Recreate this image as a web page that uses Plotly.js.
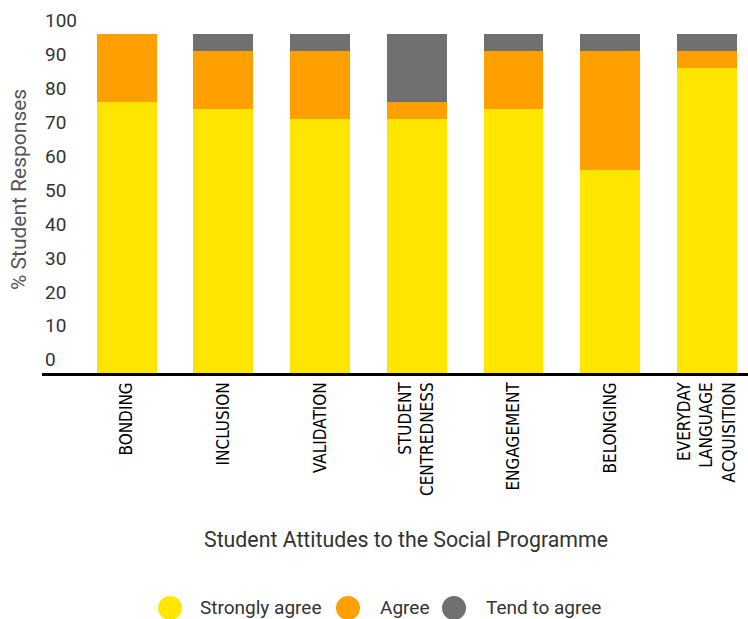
<!DOCTYPE html>
<html>
<head>
<meta charset="utf-8">
<script src="https://cdn.plot.ly/plotly-3.0.1.min.js"></script>
<style>
  html, body { margin: 0; padding: 0; background: #fff; }
  #chart { width: 748px; height: 619px; }
</style>
</head>
<body>
<div id="chart"></div>
<script>
// Survey categories (line breaks keep long labels compact)
const categories = [
  'BONDING',
  'INCLUSION',
  'VALIDATION',
  'STUDENT<br>CENTREDNESS',
  'ENGAGEMENT',
  'BELONGING',
  'EVERYDAY<br>LANGUAGE<br>ACQUISITION'
];

// Percentage of student responses per answer
const stronglyAgree = [80, 78, 75, 75, 78, 60, 90];
const agree         = [20, 17, 20, 5, 17, 35, 5];
const tendToAgree   = [0, 5, 5, 20, 5, 5, 5];

const seriesNames  = ['Strongly agree', 'Agree', 'Tend to agree'];
const seriesColors = ['#FFE600', '#FFA000', '#707070'];
const seriesValues = [stronglyAgree, agree, tendToAgree];

const yTicks = [0, 10, 20, 30, 40, 50, 60, 70, 80, 90, 100];

// Page geometry: a little headroom above 100 so the top label stays visible
const W = 748, H = 619;
const yMax = 108;
const M = { l: 42, r: 0, t: 6.9, b: 246 };
const plotW = W - M.l - M.r, plotH = H - M.t - M.b;
const px2x = p => (p - M.l) / plotW;
const px2y = p => (H - M.b - p) / plotH;

const traces = seriesNames.map((name, i) => ({
  type: 'bar',
  name: name,
  x: categories,
  y: seriesValues[i],
  marker: { color: seriesColors[i], line: { width: 0 } },
  showlegend: false,
  hoverinfo: 'x+y+name'
}));

// Legend: coloured dots with labels underneath the chart
const legendDots = [170, 348, 454];
const legendText = [198, 378, 484];
const legendY = 608;

const shapes = seriesNames.map((n, i) => ({
  type: 'circle',
  xref: 'paper', yref: 'paper',
  xsizemode: 'pixel', ysizemode: 'pixel',
  xanchor: px2x(legendDots[i]), yanchor: px2y(legendY),
  x0: -12, x1: 12, y0: -12, y1: 12,
  fillcolor: seriesColors[i],
  line: { width: 0 }
}));

const annotations = [
  {
    text: '% Student Responses',
    xref: 'paper', yref: 'paper',
    x: px2x(19), y: px2y(190),
    xanchor: 'center', yanchor: 'middle',
    textangle: -90, showarrow: false,
    font: { family: 'Roboto', size: 21, color: '#555555' }
  },
  {
    text: 'Student Attitudes to the Social Programme',
    xref: 'paper', yref: 'paper',
    x: px2x(406), y: px2y(540),
    xanchor: 'center', yanchor: 'middle',
    showarrow: false,
    font: { family: 'Roboto', size: 21.3, color: '#333333' }
  }
].concat(seriesNames.map((n, i) => ({
  text: n,
  xref: 'paper', yref: 'paper',
  x: px2x(legendText[i]), y: px2y(legendY),
  xanchor: 'left', yanchor: 'middle',
  showarrow: false,
  font: { family: 'Roboto', size: 19, color: '#333333' }
})));

const layout = {
  width: W, height: H,
  margin: M,
  paper_bgcolor: '#ffffff',
  plot_bgcolor: '#ffffff',
  barmode: 'stack',
  bargap: 0.38,
  showlegend: false,
  xaxis: {
    type: 'category',
    range: [-0.876, 6.425],
    tickangle: -90,
    ticks: '',
    showgrid: false,
    zeroline: false,
    showline: true,
    linecolor: '#000000',
    linewidth: 2.5,
    tickfont: { family: 'DejaVu Sans Condensed, Liberation Sans, Arial', size: 17, color: '#000000' },
    automargin: false
  },
  yaxis: {
    range: [0, yMax],
    tickvals: yTicks,
    ticktext: yTicks.map(String),
    ticklabelposition: 'inside top',
    ticks: '',
    showgrid: false,
    zeroline: false,
    showline: false,
    tickfont: { family: 'Roboto', size: 19, color: '#333333' },
    automargin: false
  },
  shapes: shapes,
  annotations: annotations
};

Plotly.newPlot('chart', traces, layout, { displayModeBar: false, staticPlot: true });
</script>
</body>
</html>
